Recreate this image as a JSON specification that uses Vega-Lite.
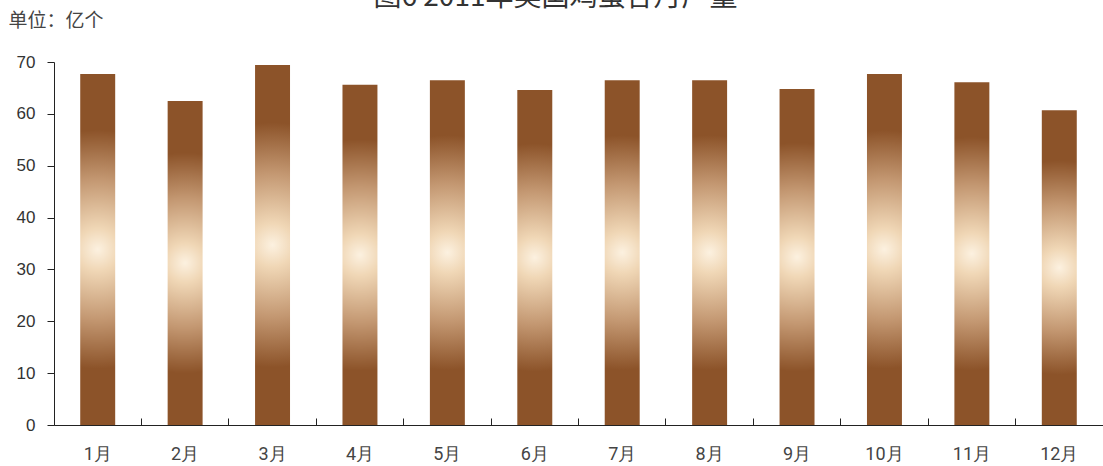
{
  "$schema": "https://vega.github.io/schema/vega-lite/v6.json",
  "width": 1049,
  "height": 363,
  "autosize": "none",
  "padding": {"left": 54, "top": 62, "right": 0, "bottom": 41},
  "background": "white",
  "title": {
    "text": "图6  2011年美国鸡蛋各月产量",
    "fontSize": 28,
    "font": "Noto Sans CJK SC",
    "fontWeight": "normal",
    "color": "#333333",
    "anchor": "middle",
    "frame": "bounds",
    "offset": 0,
    "dy": 1
  },
  "data": {
    "values": [
      {"month": "1月", "value": 67.7},
      {"month": "2月", "value": 62.5},
      {"month": "3月", "value": 69.4},
      {"month": "4月", "value": 65.6},
      {"month": "5月", "value": 66.5},
      {"month": "6月", "value": 64.6},
      {"month": "7月", "value": 66.5},
      {"month": "8月", "value": 66.5},
      {"month": "9月", "value": 64.8},
      {"month": "10月", "value": 67.7},
      {"month": "11月", "value": 66.1},
      {"month": "12月", "value": 60.7}
    ]
  },
  "mark": {
    "type": "bar",
    "width": {"band": 0.4},
    "fill": {
      "gradient": "radial",
      "x1": 0.5, "y1": 0.5, "r1": 0,
      "x2": 0.5, "y2": 0.5, "r2": 0.5,
      "stops": [
        {"offset": 0, "color": "#FCF1E0"},
        {"offset": 0.12, "color": "#F0D7B6"},
        {"offset": 0.4, "color": "#C39771"},
        {"offset": 0.68, "color": "#8C5329"},
        {"offset": 1, "color": "#8C5329"}
      ]
    }
  },
  "encoding": {
    "x": {
      "field": "month",
      "type": "ordinal",
      "sort": null,
      "scale": {"paddingInner": 0, "paddingOuter": 0},
      "axis": {
        "title": null,
        "bandPosition": 0,
        "tickSize": -7,
        "tickColor": "#222222",
        "domainColor": "#222222",
        "labelAngle": 0,
        "labelPadding": 27,
        "labelFont": "Roboto",
        "labelFontSize": 18,
        "labelColor": "#444444",
        "grid": false
      }
    },
    "y": {
      "field": "value",
      "type": "quantitative",
      "scale": {"domain": [0, 70]},
      "axis": {
        "values": [0, 10, 20, 30, 40, 50, 60, 70],
        "grid": false,
        "tickSize": 7,
        "tickColor": "#222222",
        "domainColor": "#222222",
        "labelPadding": 12,
        "labelFont": "Liberation Sans",
        "labelFontSize": 17,
        "labelColor": "#333333",
        "title": "单位：亿个",
        "titleAngle": 0,
        "titleAlign": "left",
        "titleBaseline": "alphabetic",
        "titleX": -46,
        "titleY": -36,
        "titleFont": "Noto Sans CJK SC",
        "titleFontSize": 19,
        "titleFontWeight": "normal",
        "titleColor": "#444444"
      }
    }
  },
  "config": {"view": {"stroke": null}}
}
